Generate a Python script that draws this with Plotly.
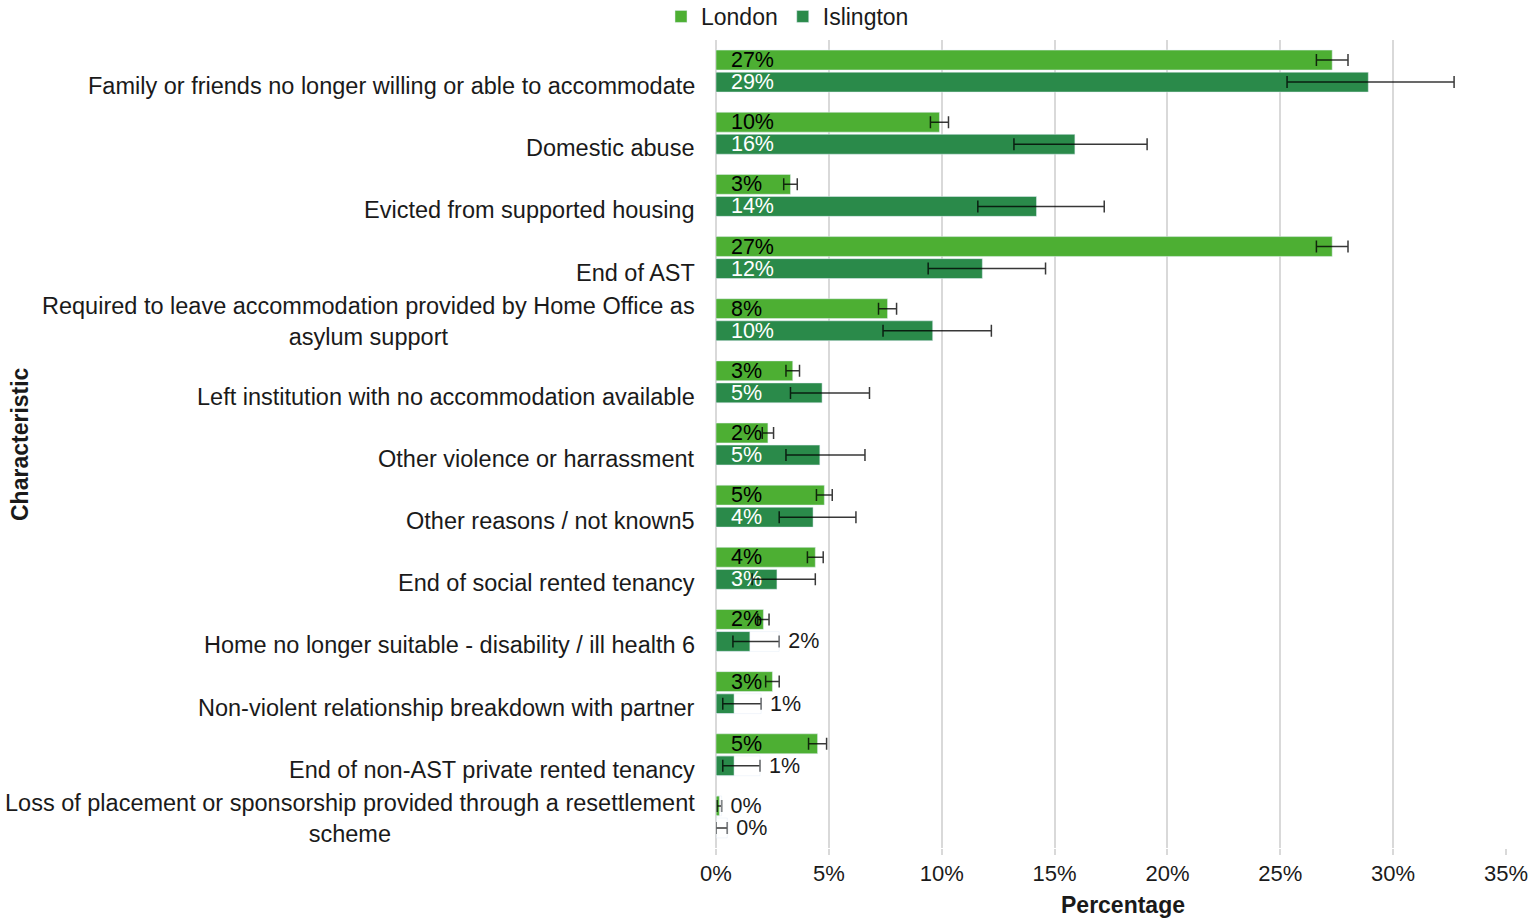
import plotly.graph_objects as go

categories = [
    "Family or friends no longer willing or able to accommodate",
    "Domestic abuse",
    "Evicted from supported housing",
    "End of AST",
    "Required to leave accommodation provided by Home Office as<br>asylum support",
    "Left institution with no accommodation available",
    "Other violence or harrassment",
    "Other reasons / not known5",
    "End of social rented tenancy",
    "Home no longer suitable - disability / ill health 6",
    "Non-violent relationship breakdown with partner",
    "End of non-AST private rented tenancy",
    "Loss of placement or sponsorship provided through a resettlement<br>scheme",
]

london = [27.3, 9.9, 3.3, 27.3, 7.6, 3.4, 2.3, 4.8, 4.4, 2.1, 2.5, 4.5, 0.15]
london_err_plus = [0.7, 0.4, 0.3, 0.7, 0.4, 0.3, 0.25, 0.35, 0.35, 0.25, 0.3, 0.4, 0.1]
london_err_minus = [0.7, 0.4, 0.3, 0.7, 0.4, 0.3, 0.25, 0.35, 0.35, 0.25, 0.3, 0.4, 0.1]

islington = [28.9, 15.9, 14.2, 11.8, 9.6, 4.7, 4.6, 4.3, 2.7, 1.5, 0.8, 0.8, 0.0]
islington_err_plus = [3.8, 3.2, 3.0, 2.8, 2.6, 2.1, 2.0, 1.9, 1.7, 1.3, 1.2, 1.15, 0.5]
islington_err_minus = [3.6, 2.7, 2.6, 2.4, 2.2, 1.4, 1.5, 1.5, 1.1, 0.75, 0.5, 0.5, 0.0]

# which data labels sit outside the bar (after the error bar)
london_outside = [False] * 12 + [True]
islington_outside = [False] * 9 + [True, True, True, True]

LONDON_C = "#4DAF33"
ISL_C = "#2A8A4A"
FONT = "Liberation Sans, Arial, sans-serif"
TXT = "#1a1a1a"
LBL = 23.5
DLBL = 21.5


def lab(v):
    return f"{int(v + 0.5)}%"


fig = go.Figure()

for name, vals, ep, em, outside, col, tcol, og in [
    ("London", london, london_err_plus, london_err_minus, london_outside, LONDON_C, "#000000", "L"),
    ("Islington", islington, islington_err_plus, islington_err_minus, islington_outside, ISL_C, "#ffffff", "I"),
]:
    fig.add_trace(go.Bar(
        name=name, y=categories, x=vals, orientation="h", offsetgroup=og,
        marker=dict(color=col),
        text=["\u00a0\u00a0" + lab(v) if not o else "" for v, o in zip(vals, outside)],
        textposition=["none" if o else "inside" for o in outside],
        insidetextanchor="start", constraintext="none",
        textfont=dict(family=FONT, size=DLBL, color=tcol),
        error_x=dict(type="data", symmetric=False, array=ep, arrayminus=em,
                     color="rgba(0,0,0,0.78)", thickness=1.5, width=6),
        hoverinfo="x+y",
    ))

# invisible carriers for the labels placed beyond the error bars
for vals, ep, outside, og in [
    (london, london_err_plus, london_outside, "L"),
    (islington, islington_err_plus, islington_outside, "I"),
]:
    fig.add_trace(go.Bar(
        y=categories, x=[v + e if o else None for v, e, o in zip(vals, ep, outside)],
        orientation="h", offsetgroup=og, showlegend=False,
        marker=dict(color="rgba(0,0,0,0)"),
        text=["\u00a0" + lab(v) if o else "" for v, o in zip(vals, outside)],
        textposition="outside", constraintext="none", cliponaxis=False,
        textfont=dict(family=FONT, size=DLBL, color=TXT),
        hoverinfo="skip",
    ))

# category labels (centered multi-line, like the original)
for c in categories:
    single = "<br>" not in c
    fig.add_annotation(
        x=0, xref="paper", y=c, yref="y", xanchor="right", yanchor="middle",
        xshift=-19, yshift=-15 if single else -2, align="center", showarrow=False,
        text=c, font=dict(family=FONT, size=LBL, color=TXT),
    )

fig.add_annotation(
    x=-(716 - 20) / 790, xref="paper", y=0.5, yref="paper", textangle=-90,
    showarrow=False, text="<b>Characteristic</b>",
    font=dict(family=FONT, size=23, color=TXT), xanchor="center", yanchor="middle",
)
fig.add_annotation(
    x=(1123 - 716) / 790, xref="paper", y=-(905 - 848) / 808, yref="paper",
    showarrow=False, text="<b>Percentage</b>",
    font=dict(family=FONT, size=23, color=TXT), xanchor="center", yanchor="middle",
)

fig.update_layout(
    width=1530, height=919,
    margin=dict(l=716, r=24, t=40, b=71, autoexpand=False),
    paper_bgcolor="white", plot_bgcolor="white",
    barmode="group", bargap=0.29, bargroupgap=0.1,
    font=dict(family=FONT, size=20, color=TXT),
    legend=dict(orientation="h", xref="paper", yref="paper",
                x=(661 - 716) / 790, y=1 + 45 / 808, xanchor="left", yanchor="top",
                font=dict(family=FONT, size=23, color=TXT),
                itemwidth=30, tracegroupgap=0),
    showlegend=True,
    xaxis=dict(range=[0, 35], dtick=5, ticksuffix="%", showgrid=True, automargin=False,
               gridcolor="#D9D9D9", gridwidth=2, zeroline=True, zerolinecolor="#D9D9D9",
               zerolinewidth=2, ticks="outside", ticklen=6, tickcolor="#D9D9D9",
               tickwidth=2, tickfont=dict(family=FONT, size=22, color=TXT)),
    yaxis=dict(type="category", autorange="reversed", showticklabels=False, automargin=False,
               showgrid=False, zeroline=False, showline=False),
)

fig.write_html("out.html", config={"displayModeBar": False},
               post_script="document.body.style.margin='0px';")
